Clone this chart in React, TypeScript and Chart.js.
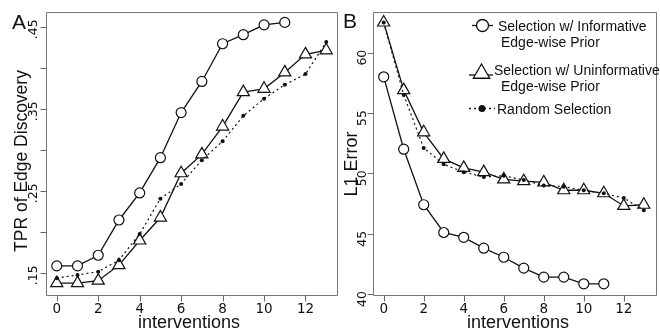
import React, { useEffect, useRef } from 'react';
import { Chart, registerables } from 'chart.js';

Chart.register(...registerables);

// ---------------- data ----------------
const interventions = [0, 1, 2, 3, 4, 5, 6, 7, 8, 9, 10, 11, 12, 13];

const tprInformative = [0.159, 0.159, 0.172, 0.215, 0.248, 0.291, 0.346, 0.384, 0.430, 0.441, 0.453, 0.456];
const tprUninformative = [0.138, 0.138, 0.141, 0.160, 0.190, 0.218, 0.272, 0.295, 0.329, 0.371, 0.375, 0.395, 0.417, 0.422];
const tprRandom = [0.144, 0.148, 0.152, 0.166, 0.198, 0.241, 0.259, 0.288, 0.311, 0.342, 0.363, 0.380, 0.393, 0.432];

const l1Informative = [58.0, 52.0, 47.4, 45.1, 44.7, 43.8, 43.05, 42.15, 41.4, 41.4, 40.85, 40.85];
const l1Uninformative = [62.5, 56.9, 53.4, 51.2, 50.45, 50.1, 49.5, 49.35, 49.25, 48.6, 48.6, 48.35, 47.3, 47.4];
const l1Random = [62.5, 56.5, 52.1, 50.75, 50.1, 49.7, 49.8, 49.45, 49.0, 48.9, 48.6, 48.35, 47.95, 46.95];

const xTickValues = [0, 2, 4, 6, 8, 10, 12];
const xTickLabels = ['0', '2', '4', '6', '8', '10', '12'];
const tprTickValues = [0.15, 0.2, 0.25, 0.3, 0.35, 0.4, 0.45];
const tprTickLabels = ['.15', '', '.25', '', '.35', '', '.45'];
const l1TickValues = [40, 45, 50, 55, 60];
const l1TickLabels = ['40', '45', '50', '55', '60'];

const legendInformative = ['Selection w/ Informative', 'Edge-wise Prior'];
const legendUninformative = ['Selection w/ Uninformative', 'Edge-wise Prior'];
const legendRandom = ['Random Selection'];

const xTitle = 'interventions';
const tprTitle = 'TPR of Edge Discovery';
const l1Title = 'L1 Error';

// ---------------- styling ----------------
const INK = '#111';
const BOX = '#777';
const SANS = '"Liberation Sans", Arial, sans-serif';
const TICKFONT = '"DejaVu Sans", sans-serif';
const W = 660;
const H = 331;

type Panel = {
  letter: string;
  letterX: number;
  letterY: number;
  yTitle: string;
  yTitleX: number;
  yTitleY: number;
  xTitleX: number;
  yLabelX: number;
  yLabelShift: number;
  padding: { left: number; right: number; top: number; bottom: number };
  xMin: number;
  xMax: number;
  yMin: number;
  yMax: number;
  yTicks: number[];
  yLabels: string[];
  informative: number[];
  uninformative: number[];
  random: number[];
  legend: boolean;
};

const panels: Panel[] = [
  {
    letter: 'A', letterX: 12, letterY: 29,
    yTitle: tprTitle, yTitleX: 27, yTitleY: 161,
    xTitleX: 189,
    yLabelX: 33.5, yLabelShift: 2,
    padding: { left: 46, right: W - 337, top: 12, bottom: H - 295 },
    xMin: -0.52, xMax: 13.52, yMin: 0.1235, yMax: 0.4687,
    yTicks: tprTickValues, yLabels: tprTickLabels,
    informative: tprInformative, uninformative: tprUninformative, random: tprRandom,
    legend: false,
  },
  {
    letter: 'B', letterX: 343, letterY: 28,
    yTitle: l1Title, yTitleX: 357, yTitleY: 164,
    xTitleX: 518,
    yLabelX: 362.5, yLabelShift: 5,
    padding: { left: 373.3, right: 0, top: 12, bottom: H - 295 },
    xMin: -0.52, xMax: 13.4, yMin: 39.92, yMax: 63.37,
    yTicks: l1TickValues, yLabels: l1TickLabels,
    informative: l1Informative, uninformative: l1Uninformative, random: l1Random,
    legend: true,
  },
];

const toPoints = (ys: number[]) => ys.map((y, i) => ({ x: interventions[i], y }));

function drawTriangle(ctx: CanvasRenderingContext2D, x: number, y: number, r: number) {
  ctx.beginPath();
  ctx.moveTo(x, y - r);
  ctx.lineTo(x + r * Math.sin(Math.PI * 2 / 3), y - r * Math.cos(Math.PI * 2 / 3));
  ctx.lineTo(x + r * Math.sin(Math.PI * 4 / 3), y - r * Math.cos(Math.PI * 4 / 3));
  ctx.closePath();
  ctx.fillStyle = '#fff';
  ctx.fill();
  ctx.stroke();
}

function drawLegend(ctx: CanvasRenderingContext2D) {
  ctx.save();
  ctx.strokeStyle = INK;
  ctx.lineWidth = 1.3;
  // row 1: circle
  ctx.beginPath();
  ctx.moveTo(472, 25.5);
  ctx.lineTo(493, 25.5);
  ctx.stroke();
  ctx.beginPath();
  ctx.arc(482.5, 25.5, 6, 0, Math.PI * 2);
  ctx.fillStyle = '#fff';
  ctx.fill();
  ctx.stroke();
  // row 2: triangle
  ctx.beginPath();
  ctx.moveTo(469, 75);
  ctx.lineTo(493, 75);
  ctx.stroke();
  drawTriangle(ctx, 481.5, 73.5, 9.5);
  // row 3: dotted with dot
  ctx.setLineDash([2, 3]);
  ctx.beginPath();
  ctx.moveTo(469, 108.5);
  ctx.lineTo(495, 108.5);
  ctx.stroke();
  ctx.setLineDash([]);
  ctx.beginPath();
  ctx.arc(482, 108.5, 3.5, 0, Math.PI * 2);
  ctx.fillStyle = INK;
  ctx.fill();

  ctx.font = `14px ${SANS}`;
  ctx.fillStyle = INK;
  ctx.textAlign = 'left';
  ctx.textBaseline = 'alphabetic';
  ctx.fillText(legendInformative[0], 498, 31);
  ctx.fillText(legendInformative[1], 501, 47);
  ctx.fillText(legendUninformative[0], 494, 75);
  ctx.fillText(legendUninformative[1], 501, 91);
  ctx.fillText(legendRandom[0], 497, 113.5);
  ctx.restore();
}

function makeDecor(p: Panel) {
  return {
    id: 'decor' + p.letter,
    afterDraw(chart: any) {
      const ctx: CanvasRenderingContext2D = chart.ctx;
      const a = chart.chartArea;
      const xs = chart.scales.x;
      const ys = chart.scales.y;
      ctx.save();
      // box
      ctx.strokeStyle = BOX;
      ctx.lineWidth = 1;
      ctx.beginPath();
      const l = Math.round(a.left) + 0.5;
      const t = Math.round(a.top) + 0.5;
      const r = Math.round(a.right) + (p.legend ? 4 : 0) + 0.5;
      const b = Math.round(a.bottom) + 0.5;
      ctx.rect(l, t, r - l, b - t);
      ctx.stroke();

      // x ticks
      ctx.strokeStyle = '#666';
      ctx.beginPath();
      xTickValues.forEach((v) => {
        const px = Math.round(xs.getPixelForValue(v)) + 0.5;
        ctx.moveTo(px, b);
        ctx.lineTo(px, b + 6);
      });
      // y ticks
      p.yTicks.forEach((v) => {
        const py = Math.round(ys.getPixelForValue(v)) + 0.5;
        ctx.moveTo(l, py);
        ctx.lineTo(l - 6, py);
      });
      ctx.stroke();

      // x tick labels
      ctx.fillStyle = INK;
      ctx.font = `13.5px ${TICKFONT}`;
      ctx.textAlign = 'center';
      ctx.textBaseline = 'alphabetic';
      xTickValues.forEach((v, i) => {
        ctx.fillText(xTickLabels[i], xs.getPixelForValue(v), 313);
      });
      // y tick labels (rotated)
      ctx.font = `12.5px ${TICKFONT}`;
      p.yTicks.forEach((v, i) => {
        const lab = p.yLabels[i];
        if (!lab) return;
        const py = ys.getPixelForValue(v);
        ctx.save();
        ctx.translate(p.yLabelX, py + p.yLabelShift);
        ctx.rotate(-Math.PI / 2);
        ctx.textBaseline = 'middle';
        ctx.fillText(lab, 0, 0);
        ctx.restore();
      });

      // x title
      ctx.font = `18px ${SANS}`;
      ctx.textAlign = 'center';
      ctx.textBaseline = 'alphabetic';
      ctx.fillText(xTitle, p.xTitleX, 328);
      // y title
      ctx.save();
      ctx.translate(p.yTitleX, p.yTitleY);
      ctx.rotate(-Math.PI / 2);
      ctx.font = `${p.legend ? 18 : 17.5}px ${SANS}`;
      ctx.fillText(p.yTitle, 0, 0);
      ctx.restore();

      // panel letter
      ctx.font = `21px ${SANS}`;
      ctx.textAlign = 'left';
      ctx.fillText(p.letter, p.letterX, p.letterY);

      ctx.restore();
      if (p.legend) drawLegend(ctx);
    },
  };
}

function buildConfig(p: Panel): any {
  return {
    type: 'line',
    data: {
      datasets: [
        {
          label: legendInformative.join(' '),
          data: toPoints(p.informative),
          borderColor: INK,
          borderWidth: 1.3,
          pointStyle: 'circle',
          pointRadius: 5,
          pointBackgroundColor: '#fff',
          pointBorderColor: INK,
          pointBorderWidth: 1.2,
          tension: 0,
          order: 2,
          clip: false,
        },
        {
          label: legendUninformative.join(' '),
          data: toPoints(p.uninformative),
          borderColor: INK,
          borderWidth: 1.3,
          pointStyle: 'triangle',
          pointRadius: 7,
          pointBackgroundColor: '#fff',
          pointBorderColor: INK,
          pointBorderWidth: 1.2,
          tension: 0,
          order: 1,
          clip: false,
        },
        {
          label: legendRandom[0],
          data: toPoints(p.random),
          borderColor: INK,
          borderWidth: 1.2,
          borderDash: [2, 3],
          pointStyle: 'circle',
          pointRadius: 2,
          pointBackgroundColor: INK,
          pointBorderColor: INK,
          pointBorderWidth: 0,
          tension: 0,
          order: 0,
          clip: false,
        },
      ],
    },
    options: {
      animation: false,
      responsive: false,
      devicePixelRatio: 1,
      layout: { padding: p.padding },
      plugins: { legend: { display: false }, tooltip: { enabled: false } },
      scales: {
        x: { type: 'linear', min: p.xMin, max: p.xMax, display: false },
        y: { type: 'linear', min: p.yMin, max: p.yMax, display: false },
      },
    },
    plugins: [makeDecor(p)],
  };
}

function PanelCanvas({ panel }: { panel: Panel }) {
  const ref = useRef<HTMLCanvasElement | null>(null);
  useEffect(() => {
    if (!ref.current) return;
    const chart = new Chart(ref.current, buildConfig(panel));
    return () => chart.destroy();
  }, [panel]);
  return (
    <canvas
      ref={ref}
      width={W}
      height={H}
      style={{ position: 'absolute', left: 0, top: 0, width: W, height: H }}
    />
  );
}

export default function App() {
  return (
    <div
      style={{
        position: 'fixed',
        left: 0,
        top: 0,
        width: W,
        height: H,
        background: '#fff',
        overflow: 'hidden',
      }}
    >
      {panels.map((p) => (
        <PanelCanvas key={p.letter} panel={p} />
      ))}
    </div>
  );
}
